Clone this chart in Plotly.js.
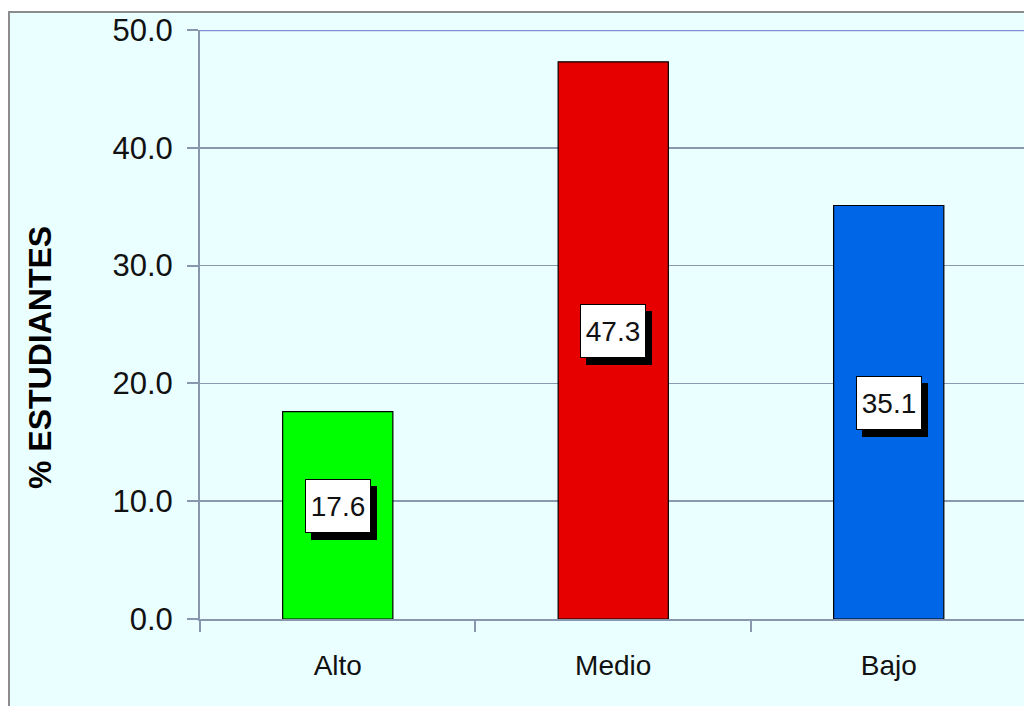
<!DOCTYPE html>
<html>
<head>
<meta charset="utf-8">
<script src="https://cdn.plot.ly/plotly-3.0.1.min.js"></script>
<style>html,body{margin:0;padding:0;background:#fff;}#chart{width:1024px;height:706px;}</style>
</head>
<body>
<div id="chart"></div>
<script>
const categories = ["Alto", "Medio", "Bajo"];
const values = [17.6, 47.3, 35.1];
const barColors = ["#00FF00", "#E60000", "#0066E8"];
const yTickVals = [0, 10, 20, 30, 40, 50];
const yTickText = ["0.0", "10.0", "20.0", "30.0", "40.0", "50.0"];
const yTitle = "% ESTUDIANTES";

const font = "Liberation Sans, Arial, sans-serif";

const trace = {
  type: "bar",
  x: categories,
  y: values,
  width: 0.4,
  marker: { color: barColors, line: { color: "#000000", width: 1.2 } },
  hoverinfo: "none"
};

const annotations = [];
categories.forEach((c, i) => {
  const txt = values[i].toFixed(1);
  // shadow box (no text)
  annotations.push({
    x: c, y: values[i] / 2, xref: "x", yref: "y",
    text: "&nbsp;", showarrow: false,
    font: { family: font, size: 28, color: "#000000" },
    bgcolor: "#000000", bordercolor: "#000000", borderwidth: 1, borderpad: 0,
    width: 64, height: 52,
    xshift: 6, yshift: 9 - 7
  });
  annotations.push({
    x: c, y: values[i] / 2, xref: "x", yref: "y",
    text: txt, showarrow: false,
    font: { family: font, size: 28, color: "#111111" },
    bgcolor: "#FFFFFF", bordercolor: "#000000", borderwidth: 1, borderpad: 0,
    width: 64, height: 52,
    yshift: 9
  });
});

annotations.push({
  xref: "paper", yref: "paper",
  x: (40 - 200) / 824, y: (619 - 358) / 589,
  xanchor: "center", yanchor: "middle",
  text: yTitle, textangle: -90, showarrow: false,
  font: { family: font, size: 32, color: "#000000", weight: "bold" }
});

const layout = {
  width: 1024, height: 706,
  margin: { l: 200, r: 0, t: 30, b: 87 },
  paper_bgcolor: "#FFFFFF",
  plot_bgcolor: "rgba(0,0,0,0)",
  showlegend: false,
  xaxis: {
    type: "category",
    range: [-0.5, 2.491],
    showgrid: false,
    showline: true, linecolor: "#8896AE", linewidth: 2,
    ticks: "outside", tickson: "boundaries", ticklen: 11, tickcolor: "#8896AE", tickwidth: 2,
    ticklabelstandoff: 20,
    tickfont: { family: font, size: 28, color: "#111111" },
    fixedrange: true
  },
  yaxis: {
    range: [0, 50],
    tickvals: yTickVals, ticktext: yTickText,
    showgrid: true, gridcolor: "#8A98B0", gridwidth: 1.5,
    zeroline: false,
    showline: true, linecolor: "#8896AE", linewidth: 2,
    ticks: "outside", ticklen: 11, tickcolor: "#8896AE", tickwidth: 2,
    ticklabelstandoff: 8,
    tickfont: { family: font, size: 31, color: "#111111" },
    fixedrange: true
  },
  shapes: [
    {
      type: "rect", xref: "paper", yref: "paper", layer: "below",
      x0: (9 - 200) / 824, x1: 1.02, y0: -0.2, y1: (619 - 12) / 589,
      fillcolor: "#EAFFFF", line: { color: "#8C8C8C", width: 2 }
    },
    {
      type: "line", xref: "paper", yref: "y", layer: "below",
      x0: 0, x1: 1, y0: 50, y1: 50,
      line: { color: "#7F8FD6", width: 2.5 }
    }
  ],
  annotations: annotations
};

Plotly.newPlot("chart", [trace], layout, { staticPlot: true, displayModeBar: false });
</script>
</body>
</html>
